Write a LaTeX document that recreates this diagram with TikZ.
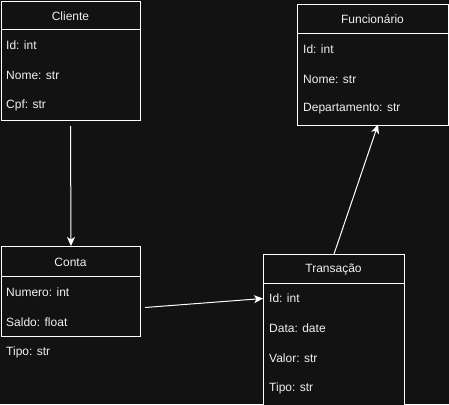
\documentclass[tikz,border=0pt]{standalone}
\usepackage{fontspec}
\setmainfont{Liberation Sans}
\usetikzlibrary{arrows.meta}
\definecolor{bg}{HTML}{121212}
\definecolor{fg}{HTML}{F0F0F0}
\begin{document}
\begin{tikzpicture}[x=1pt,y=-1pt,
  box/.style={draw=white, line width=1pt, fill=bg, inner sep=0pt, anchor=north west},
  sepline/.style={draw=white, line width=1pt},
  title/.style={text=fg, font=\fontsize{12pt}{14pt}\selectfont, inner sep=0pt},
  attr/.style={text=fg, font=\fontsize{12pt}{14pt}\selectfont, inner sep=0pt, anchor=west},
  arr/.style={draw=white, line width=1pt, -{Stealth[length=9pt,width=8pt,inset=2.5pt]}}]
\fill[bg] (0,0) rectangle (449,404);
\useasboundingbox (0,0) rectangle (449,404);

% Cliente
\node[box, minimum width=139pt, minimum height=119pt] (cliente) at (1,1) {};
\draw[sepline] (1,30) -- (140,30);
\node[title] (clienteT) at (70.5,16) {Cliente};
\node[attr] (cliente1) at (6,45) {Id: int};
\node[attr] (cliente2) at (6,75.5) {Nome: str};
\node[attr] (cliente3) at (6,105.5) {Cpf: str};

% Funcionario
\node[box, minimum width=151pt, minimum height=120pt] (func) at (297,4.5) {};
\draw[sepline] (297,34) -- (448,34);
\node[title] (funcT) at (372.5,19.5) {Funcionário};
\node[attr] (func1) at (303,49) {Id: int};
\node[attr] (func2) at (303,79) {Nome: str};
\node[attr] (func3) at (303,109) {Departamento: str};

% Conta
\node[box, minimum width=139pt, minimum height=90pt] (conta) at (1,246) {};
\draw[sepline] (1,276) -- (140,276);
\node[title] (contaT) at (70.5,262) {Conta};
\node[attr] (conta1) at (6,292) {Numero: int};
\node[attr] (conta2) at (6,322) {Saldo: float};
\node[attr] (conta3) at (6,352) {Tipo: str};

% Transacao
\node[box, minimum width=141pt, minimum height=154pt] (trans) at (263,254) {};
\draw[sepline] (263,283.5) -- (404,283.5);
\node[title] (transT) at (333.5,269) {Transação};
\node[attr] (trans1) at (269,298.5) {Id: int};
\node[attr] (trans2) at (269,328.5) {Data: date};
\node[attr] (trans3) at (269,358.5) {Valor: str};
\node[attr] (trans4) at (269,388.5) {Tipo: str};

% connectors
\coordinate (k1) at (70.5,126);
\coordinate (c1) at (145,307.5);
\coordinate (f1) at (378,124.5);
\draw[arr] (k1) -- (conta.north);
\draw[arr] (c1) -- (trans.west |- trans1);
\draw[arr] (trans.north) -- (f1);
\end{tikzpicture}
\end{document}
